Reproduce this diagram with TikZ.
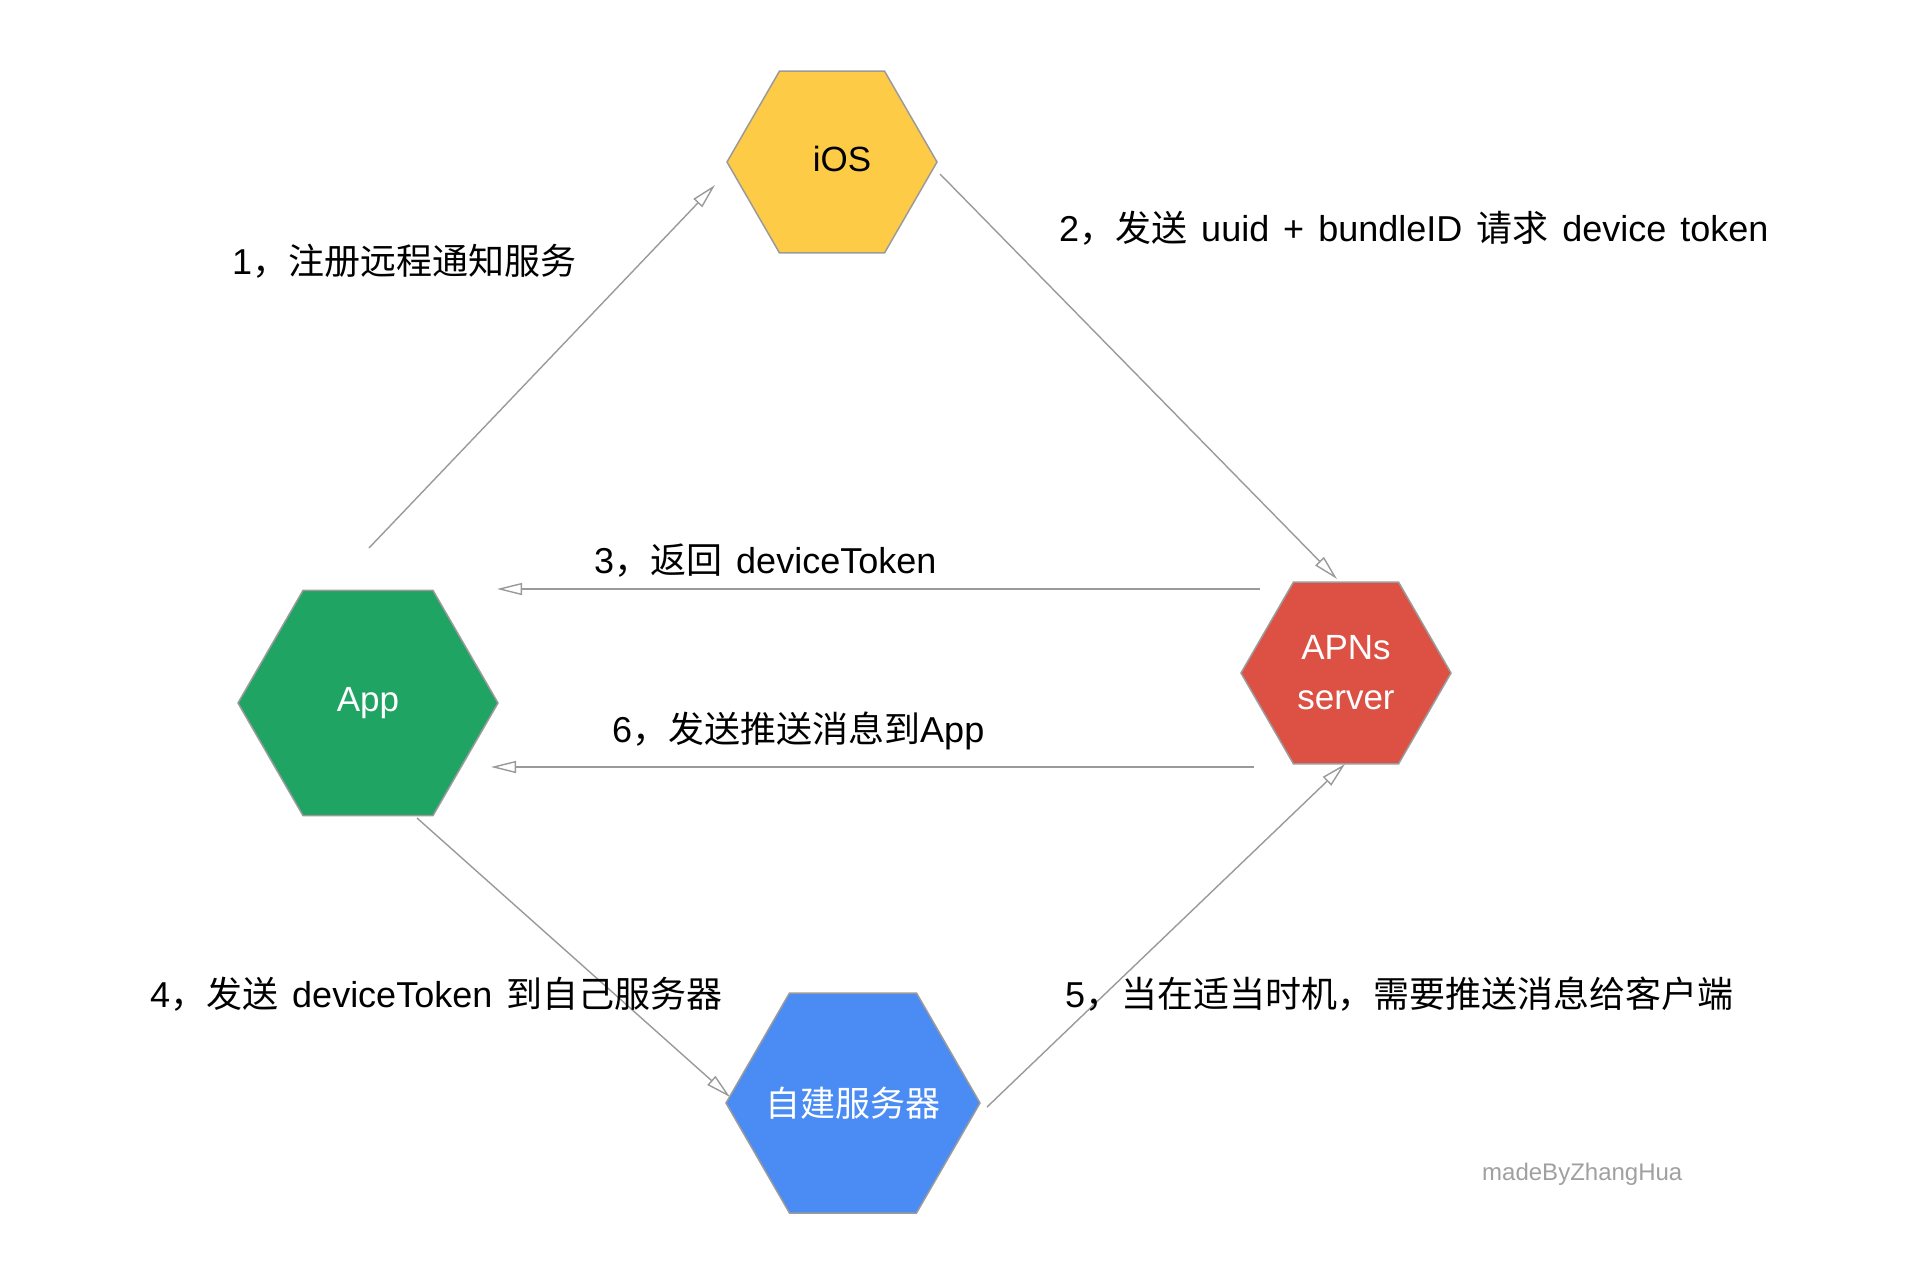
\documentclass[tikz,border=0pt]{standalone}
\usepackage{fontspec}
\setmainfont{Liberation Sans}
\newfontfamily\cjk{Noto Sans CJK SC}
\usetikzlibrary{shapes.geometric,arrows.meta}
\definecolor{iosyellow}{HTML}{FECB47}
\definecolor{appgreen}{HTML}{1FA463}
\definecolor{apnsred}{HTML}{DD5144}
\definecolor{srvblue}{HTML}{4B8BF4}
\definecolor{hexborder}{HTML}{9B9B9B}
\definecolor{arrowgray}{HTML}{9A9A9A}
\definecolor{markgray}{HTML}{A0A0A0}
\newcommand{\lblfont}{\fontsize{36}{43}\selectfont\spaceskip=14pt\relax}
\begin{document}
\begin{tikzpicture}[x=1pt,y=-1pt,
  hexa/.style={regular polygon, regular polygon sides=6, draw=hexborder, line width=1.5pt,
    inner sep=0pt, align=center, font=\fontsize{35}{50}\selectfont},
  conn/.style={draw=arrowgray, line width=1.4pt, -{Triangle[open,length=25pt,width=12pt,line width=1.4pt]}},
  lbl/.style={anchor=base west, inner sep=0pt, font=\lblfont}]
\path[fill=white] (0,0) rectangle (1908,1270);

% hexagons
\node[hexa, fill=iosyellow, minimum size=210pt, text=black] (ios) at (832,162)
  {\raisebox{6pt}{\makebox[0pt]{\hspace*{20pt}iOS}}};
\node[hexa, fill=appgreen, minimum size=260pt, text=white] (app) at (368,703) {\makebox[0pt]{App}};
\node[hexa, fill=apnsred, minimum size=210pt, text=white] (apns) at (1346,673) {APNs\\server};
\node[hexa, fill=srvblue, minimum size=254pt, text=white] (srv) at (853,1103) {\makebox[0pt]{\cjk 自建服务器}};

% connector end points
\coordinate (a1s) at (369,548);
\coordinate (a1e) at (715,185);
\coordinate (a2s) at (940,174);
\coordinate (a2e) at (1337,579);
\coordinate (a3s) at (1260,589);
\coordinate (a3e) at (497,589);
\coordinate (a6s) at (1254,767);
\coordinate (a6e) at (491,767);
\coordinate (a4s) at (417,818);
\coordinate (a4e) at (730,1097);
\coordinate (a5s) at (987,1107);
\coordinate (a5e) at (1345,764);

\draw[conn] (a1s) -- (a1e);
\draw[conn] (a2s) -- (a2e);
\draw[conn] (a3s) -- (a3e);
\draw[conn] (a6s) -- (a6e);
\draw[conn] (a4s) -- (a4e);
\draw[conn] (a5s) -- (a5e);

% labels
\node[lbl] (l1) at (232,274) {1{\cjk ，注册远程通知服务}};
\node[lbl] (l2) at (1059,241) {2{\cjk ，发送} uuid + bundleID {\cjk 请求} device token};
\node[lbl] (l3) at (594,573) {3{\cjk ，返回} deviceToken};
\node[lbl] (l6) at (612,742) {6{\cjk ，发送推送消息到}App};
\node[lbl] (l4) at (150,1007) {4{\cjk ，发送} deviceToken {\cjk 到自己服务器}};
\node[lbl] (l5) at (1065,1007) {5{\cjk ，当在适当时机，需要推送消息给客户端}};
\node[anchor=base west, inner sep=0pt, text=markgray, font=\fontsize{24}{29}\selectfont] (mark) at (1482,1180) {madeByZhangHua};
\end{tikzpicture}
\end{document}
